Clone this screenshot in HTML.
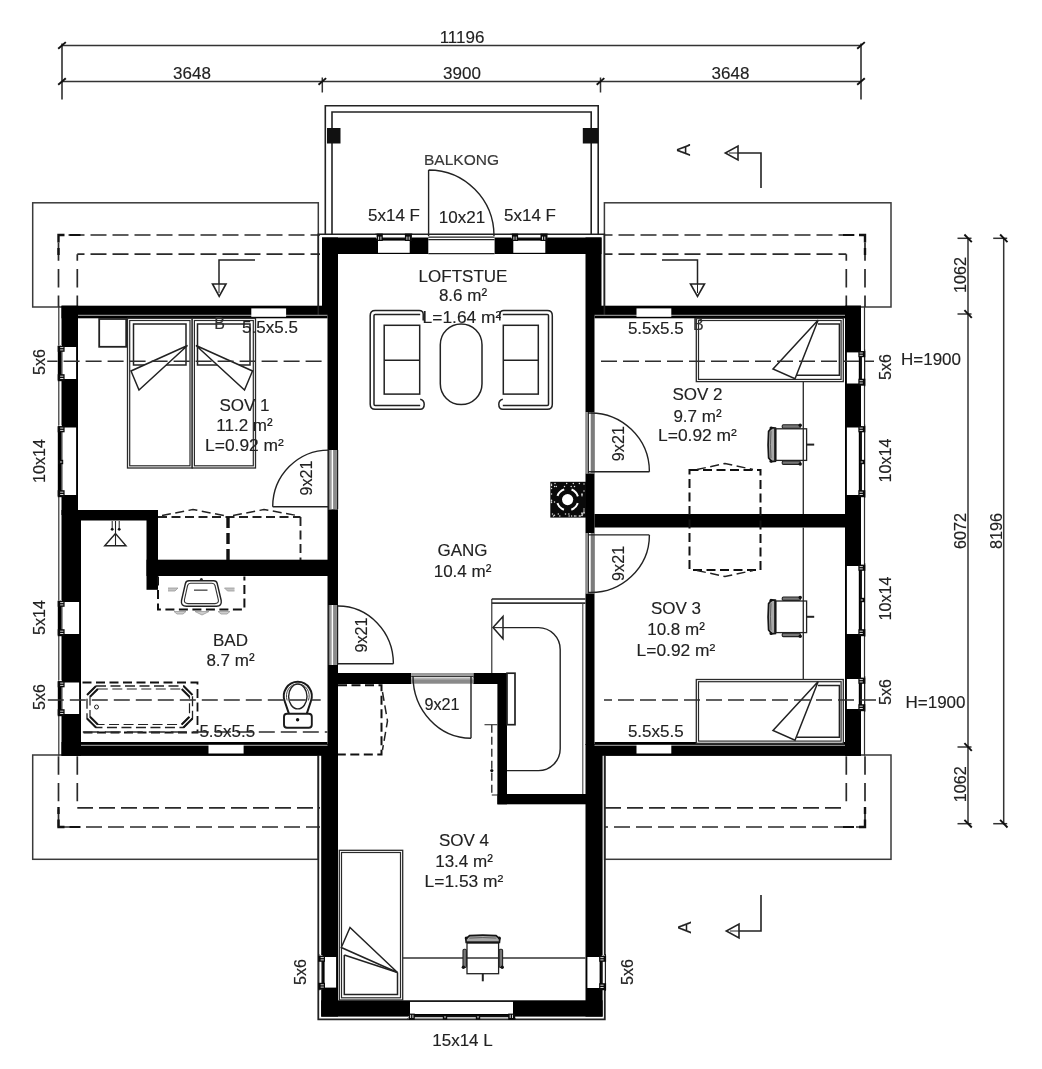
<!DOCTYPE html>
<html lang="no"><head><meta charset="utf-8"><title>Plan loft</title>
<style>
html,body{margin:0;padding:0;background:#fff;}
body{width:1042px;height:1069px;overflow:hidden;}
svg{display:block;}
text{font-family:"Liberation Sans",sans-serif;}
</style></head><body>
<svg width="1042" height="1069" viewBox="0 0 1042 1069">
<rect width="1042" height="1069" fill="#fff"/>
<g id="roof">
<rect x="32.70" y="202.80" width="285.60" height="104.20" fill="#fff" stroke="#3a3a3a" stroke-width="1.5" />
<rect x="604.40" y="202.80" width="286.60" height="104.20" fill="#fff" stroke="#3a3a3a" stroke-width="1.5" />
<rect x="32.70" y="755.00" width="285.60" height="104.30" fill="#fff" stroke="#3a3a3a" stroke-width="1.5" />
<rect x="604.60" y="755.00" width="286.40" height="104.30" fill="#fff" stroke="#3a3a3a" stroke-width="1.5" />
</g>
<g id="dashes">
<line x1="58.50" y1="235.00" x2="320.00" y2="235.00" stroke="#2a2a2a" stroke-width="1.7" stroke-dasharray="16 6" stroke-dashoffset="12.00"/>
<line x1="604.00" y1="235.00" x2="865.00" y2="235.00" stroke="#2a2a2a" stroke-width="1.7" stroke-dasharray="16 6" stroke-dashoffset="7.50"/>
<line x1="58.50" y1="827.00" x2="320.00" y2="827.00" stroke="#2a2a2a" stroke-width="1.7" stroke-dasharray="16 6" stroke-dashoffset="16.50"/>
<line x1="604.00" y1="827.00" x2="865.00" y2="827.00" stroke="#2a2a2a" stroke-width="1.7" stroke-dasharray="16 6" stroke-dashoffset="12.00"/>
<line x1="58.50" y1="235.00" x2="58.50" y2="307.00" stroke="#2a2a2a" stroke-width="1.7" stroke-dasharray="18.4 8.2" stroke-dashoffset="19.20"/>
<line x1="865.00" y1="235.00" x2="865.00" y2="307.00" stroke="#2a2a2a" stroke-width="1.7" stroke-dasharray="18.4 8.2" stroke-dashoffset="19.20"/>
<line x1="58.50" y1="755.00" x2="58.50" y2="827.00" stroke="#2a2a2a" stroke-width="1.7" stroke-dasharray="18.4 8.2" stroke-dashoffset="25.30"/>
<line x1="865.00" y1="755.00" x2="865.00" y2="827.00" stroke="#2a2a2a" stroke-width="1.7" stroke-dasharray="18.4 8.2" stroke-dashoffset="25.30"/>
<line x1="77.30" y1="254.20" x2="320.00" y2="254.20" stroke="#2a2a2a" stroke-width="1.7" stroke-dasharray="16 6" stroke-dashoffset="8.80"/>
<line x1="604.00" y1="254.20" x2="846.30" y2="254.20" stroke="#2a2a2a" stroke-width="1.7" stroke-dasharray="16 6" stroke-dashoffset="7.50"/>
<line x1="77.30" y1="807.80" x2="320.00" y2="807.80" stroke="#2a2a2a" stroke-width="1.7" stroke-dasharray="16 6" stroke-dashoffset="0.30"/>
<line x1="604.00" y1="807.80" x2="846.30" y2="807.80" stroke="#2a2a2a" stroke-width="1.7" stroke-dasharray="16 6" stroke-dashoffset="21.00"/>
<line x1="77.30" y1="254.20" x2="77.30" y2="307.00" stroke="#2a2a2a" stroke-width="1.7" stroke-dasharray="18.4 8.2" stroke-dashoffset="11.80"/>
<line x1="846.30" y1="254.20" x2="846.30" y2="307.00" stroke="#2a2a2a" stroke-width="1.7" stroke-dasharray="18.4 8.2" stroke-dashoffset="11.80"/>
<line x1="77.30" y1="755.00" x2="77.30" y2="807.80" stroke="#2a2a2a" stroke-width="1.7" stroke-dasharray="18.4 8.2" stroke-dashoffset="25.30"/>
<line x1="846.30" y1="755.00" x2="846.30" y2="807.80" stroke="#2a2a2a" stroke-width="1.7" stroke-dasharray="18.4 8.2" stroke-dashoffset="25.30"/>
<path d="M64.5,235 L58.5,235 L58.5,242.5 M58.5,248 L58.5,255" fill="none" stroke="#111" stroke-width="2.4" />
<path d="M69.5,235 L80.5,235" fill="none" stroke="#111" stroke-width="2.0" />
<path d="M859,235 L865,235 L865,242.5 M865,248 L865,255" fill="none" stroke="#111" stroke-width="2.4" />
<path d="M854,235 L843,235" fill="none" stroke="#111" stroke-width="2.0" />
<path d="M64.5,827 L58.5,827 L58.5,819.5 M58.5,814 L58.5,807" fill="none" stroke="#111" stroke-width="2.4" />
<path d="M69.5,827 L80.5,827" fill="none" stroke="#111" stroke-width="2.0" />
<path d="M859,827 L865,827 L865,819.5 M865,814 L865,807" fill="none" stroke="#111" stroke-width="2.4" />
<path d="M854,827 L843,827" fill="none" stroke="#111" stroke-width="2.0" />
</g>
<g id="walls" fill="#000">
<rect x="322.00" y="237.50" width="279.50" height="16.50" fill="#000" stroke="none" stroke-width="0" />
<rect x="322.00" y="237.50" width="16.00" height="78.50" fill="#000" stroke="none" stroke-width="0" />
<rect x="327.50" y="316.00" width="10.50" height="429.00" fill="#000" stroke="none" stroke-width="0" />
<rect x="321.20" y="744.00" width="16.80" height="272.60" fill="#000" stroke="none" stroke-width="0" />
<rect x="585.50" y="237.50" width="16.00" height="78.50" fill="#000" stroke="none" stroke-width="0" />
<rect x="585.50" y="316.00" width="9.00" height="429.00" fill="#000" stroke="none" stroke-width="0" />
<rect x="585.50" y="744.00" width="17.10" height="272.60" fill="#000" stroke="none" stroke-width="0" />
<rect x="321.20" y="1000.30" width="281.40" height="16.30" fill="#000" stroke="none" stroke-width="0" />
<rect x="61.50" y="305.70" width="266.00" height="12.60" fill="#000" stroke="none" stroke-width="0" />
<rect x="61.50" y="305.70" width="16.50" height="209.30" fill="#000" stroke="none" stroke-width="0" />
<rect x="61.50" y="510.00" width="19.50" height="245.80" fill="#000" stroke="none" stroke-width="0" />
<rect x="61.50" y="742.00" width="266.00" height="13.80" fill="#000" stroke="none" stroke-width="0" />
<rect x="78.00" y="510.00" width="80.00" height="10.50" fill="#000" stroke="none" stroke-width="0" />
<rect x="146.50" y="510.00" width="11.50" height="79.80" fill="#000" stroke="none" stroke-width="0" />
<rect x="146.50" y="559.70" width="181.50" height="16.30" fill="#000" stroke="none" stroke-width="0" />
<rect x="594.50" y="305.70" width="266.50" height="12.60" fill="#000" stroke="none" stroke-width="0" />
<rect x="845.00" y="305.70" width="16.00" height="450.10" fill="#000" stroke="none" stroke-width="0" />
<rect x="594.50" y="742.00" width="266.50" height="13.80" fill="#000" stroke="none" stroke-width="0" />
<rect x="594.50" y="514.00" width="251.50" height="13.50" fill="#000" stroke="none" stroke-width="0" />
<rect x="338.00" y="673.00" width="169.00" height="11.00" fill="#000" stroke="none" stroke-width="0" />
<rect x="497.40" y="673.00" width="9.60" height="131.30" fill="#000" stroke="none" stroke-width="0" />
<rect x="497.40" y="794.00" width="88.60" height="10.30" fill="#000" stroke="none" stroke-width="0" />
</g>
<g id="clad">
<line x1="58.80" y1="305.70" x2="58.80" y2="755.80" stroke="#333" stroke-width="1.2" />
<line x1="864.50" y1="305.70" x2="864.50" y2="755.80" stroke="#333" stroke-width="1.2" />
<path d="M318.3,316 L318.3,234.3 L604.4,234.3 L604.4,316" fill="none" stroke="#222" stroke-width="1.6" />
<path d="M318.3,755.8 L318.3,1019.3 L604.8,1019.3 L604.8,755.8" fill="none" stroke="#222" stroke-width="1.8" />
<line x1="78.00" y1="315.30" x2="327.50" y2="315.30" stroke="#8a8a8a" stroke-width="1.2" />
<line x1="594.50" y1="315.30" x2="845.00" y2="315.30" stroke="#8a8a8a" stroke-width="1.2" />
<line x1="81.00" y1="745.40" x2="327.50" y2="745.40" stroke="#8a8a8a" stroke-width="1.2" />
<line x1="594.50" y1="745.40" x2="845.00" y2="745.40" stroke="#8a8a8a" stroke-width="1.2" />
</g>
<g id="openings">
<rect x="62.40" y="347.00" width="13.70" height="32.00" fill="#fff" stroke="none" stroke-width="0" />
<rect x="58.40" y="345.00" width="3.60" height="36.00" fill="#fff" stroke="none" stroke-width="0" />
<rect x="57.80" y="346.00" width="3.90" height="34.00" fill="#000" stroke="none" stroke-width="0" />
<rect x="57.70" y="345.60" width="6.90" height="6.20" fill="#0a0a0a" stroke="none" stroke-width="0" />
<line x1="63.40" y1="347.60" x2="60.20" y2="347.60" stroke="#eee" stroke-width="0.9" />
<line x1="63.40" y1="349.90" x2="60.20" y2="349.90" stroke="#eee" stroke-width="0.9" />
<rect x="57.70" y="374.20" width="6.90" height="7.00" fill="#0a0a0a" stroke="none" stroke-width="0" />
<line x1="63.40" y1="376.20" x2="60.20" y2="376.20" stroke="#eee" stroke-width="0.9" />
<line x1="63.40" y1="378.50" x2="60.20" y2="378.50" stroke="#eee" stroke-width="0.9" />
<rect x="62.40" y="427.50" width="13.70" height="67.50" fill="#fff" stroke="none" stroke-width="0" />
<rect x="58.40" y="425.50" width="3.60" height="71.50" fill="#fff" stroke="none" stroke-width="0" />
<rect x="57.80" y="426.50" width="3.90" height="69.50" fill="#000" stroke="none" stroke-width="0" />
<rect x="57.70" y="426.10" width="6.90" height="6.20" fill="#0a0a0a" stroke="none" stroke-width="0" />
<line x1="63.40" y1="428.10" x2="60.20" y2="428.10" stroke="#eee" stroke-width="0.9" />
<line x1="63.40" y1="430.40" x2="60.20" y2="430.40" stroke="#eee" stroke-width="0.9" />
<rect x="57.70" y="490.20" width="6.90" height="7.00" fill="#0a0a0a" stroke="none" stroke-width="0" />
<line x1="63.40" y1="492.20" x2="60.20" y2="492.20" stroke="#eee" stroke-width="0.9" />
<line x1="63.40" y1="494.50" x2="60.20" y2="494.50" stroke="#eee" stroke-width="0.9" />
<rect x="58.20" y="459.80" width="5.00" height="4.40" fill="#0a0a0a" stroke="none" stroke-width="0" />
<line x1="62.20" y1="462.00" x2="60.00" y2="462.00" stroke="#eee" stroke-width="0.9" />
<rect x="62.40" y="602.00" width="16.70" height="32.00" fill="#fff" stroke="none" stroke-width="0" />
<rect x="58.40" y="600.00" width="3.60" height="36.00" fill="#fff" stroke="none" stroke-width="0" />
<rect x="57.80" y="601.00" width="3.90" height="34.00" fill="#000" stroke="none" stroke-width="0" />
<rect x="57.70" y="600.60" width="6.90" height="6.20" fill="#0a0a0a" stroke="none" stroke-width="0" />
<line x1="63.40" y1="602.60" x2="60.20" y2="602.60" stroke="#eee" stroke-width="0.9" />
<line x1="63.40" y1="604.90" x2="60.20" y2="604.90" stroke="#eee" stroke-width="0.9" />
<rect x="57.70" y="629.20" width="6.90" height="7.00" fill="#0a0a0a" stroke="none" stroke-width="0" />
<line x1="63.40" y1="631.20" x2="60.20" y2="631.20" stroke="#eee" stroke-width="0.9" />
<line x1="63.40" y1="633.50" x2="60.20" y2="633.50" stroke="#eee" stroke-width="0.9" />
<rect x="62.40" y="682.50" width="16.70" height="31.50" fill="#fff" stroke="none" stroke-width="0" />
<rect x="58.40" y="680.50" width="3.60" height="35.50" fill="#fff" stroke="none" stroke-width="0" />
<rect x="57.80" y="681.50" width="3.90" height="33.50" fill="#000" stroke="none" stroke-width="0" />
<rect x="57.70" y="681.10" width="6.90" height="6.20" fill="#0a0a0a" stroke="none" stroke-width="0" />
<line x1="63.40" y1="683.10" x2="60.20" y2="683.10" stroke="#eee" stroke-width="0.9" />
<line x1="63.40" y1="685.40" x2="60.20" y2="685.40" stroke="#eee" stroke-width="0.9" />
<rect x="57.70" y="709.20" width="6.90" height="7.00" fill="#0a0a0a" stroke="none" stroke-width="0" />
<line x1="63.40" y1="711.20" x2="60.20" y2="711.20" stroke="#eee" stroke-width="0.9" />
<line x1="63.40" y1="713.50" x2="60.20" y2="713.50" stroke="#eee" stroke-width="0.9" />
<rect x="846.90" y="352.40" width="11.90" height="31.10" fill="#fff" stroke="none" stroke-width="0" />
<rect x="861.00" y="350.40" width="3.60" height="35.10" fill="#fff" stroke="none" stroke-width="0" />
<line x1="861.00" y1="351.40" x2="861.00" y2="384.50" stroke="#111" stroke-width="1.9" />
<line x1="864.60" y1="349.40" x2="864.60" y2="386.50" stroke="#222" stroke-width="1.2" />
<rect x="858.40" y="351.00" width="6.90" height="6.20" fill="#0a0a0a" stroke="none" stroke-width="0" />
<line x1="859.60" y1="353.00" x2="862.80" y2="353.00" stroke="#eee" stroke-width="0.9" />
<line x1="859.60" y1="355.30" x2="862.80" y2="355.30" stroke="#eee" stroke-width="0.9" />
<rect x="858.40" y="378.70" width="6.90" height="7.00" fill="#0a0a0a" stroke="none" stroke-width="0" />
<line x1="859.60" y1="380.70" x2="862.80" y2="380.70" stroke="#eee" stroke-width="0.9" />
<line x1="859.60" y1="383.00" x2="862.80" y2="383.00" stroke="#eee" stroke-width="0.9" />
<rect x="846.90" y="427.50" width="11.90" height="67.50" fill="#fff" stroke="none" stroke-width="0" />
<rect x="861.00" y="425.50" width="3.60" height="71.50" fill="#fff" stroke="none" stroke-width="0" />
<line x1="861.00" y1="426.50" x2="861.00" y2="496.00" stroke="#111" stroke-width="1.9" />
<line x1="864.60" y1="424.50" x2="864.60" y2="498.00" stroke="#222" stroke-width="1.2" />
<rect x="858.40" y="426.10" width="6.90" height="6.20" fill="#0a0a0a" stroke="none" stroke-width="0" />
<line x1="859.60" y1="428.10" x2="862.80" y2="428.10" stroke="#eee" stroke-width="0.9" />
<line x1="859.60" y1="430.40" x2="862.80" y2="430.40" stroke="#eee" stroke-width="0.9" />
<rect x="858.40" y="490.20" width="6.90" height="7.00" fill="#0a0a0a" stroke="none" stroke-width="0" />
<line x1="859.60" y1="492.20" x2="862.80" y2="492.20" stroke="#eee" stroke-width="0.9" />
<line x1="859.60" y1="494.50" x2="862.80" y2="494.50" stroke="#eee" stroke-width="0.9" />
<rect x="859.80" y="459.80" width="5.00" height="4.40" fill="#0a0a0a" stroke="none" stroke-width="0" />
<line x1="860.80" y1="462.00" x2="863.00" y2="462.00" stroke="#eee" stroke-width="0.9" />
<rect x="846.90" y="566.00" width="11.90" height="68.00" fill="#fff" stroke="none" stroke-width="0" />
<rect x="861.00" y="564.00" width="3.60" height="72.00" fill="#fff" stroke="none" stroke-width="0" />
<line x1="861.00" y1="565.00" x2="861.00" y2="635.00" stroke="#111" stroke-width="1.9" />
<line x1="864.60" y1="563.00" x2="864.60" y2="637.00" stroke="#222" stroke-width="1.2" />
<rect x="858.40" y="564.60" width="6.90" height="6.20" fill="#0a0a0a" stroke="none" stroke-width="0" />
<line x1="859.60" y1="566.60" x2="862.80" y2="566.60" stroke="#eee" stroke-width="0.9" />
<line x1="859.60" y1="568.90" x2="862.80" y2="568.90" stroke="#eee" stroke-width="0.9" />
<rect x="858.40" y="629.20" width="6.90" height="7.00" fill="#0a0a0a" stroke="none" stroke-width="0" />
<line x1="859.60" y1="631.20" x2="862.80" y2="631.20" stroke="#eee" stroke-width="0.9" />
<line x1="859.60" y1="633.50" x2="862.80" y2="633.50" stroke="#eee" stroke-width="0.9" />
<rect x="859.80" y="597.80" width="5.00" height="4.40" fill="#0a0a0a" stroke="none" stroke-width="0" />
<line x1="860.80" y1="600.00" x2="863.00" y2="600.00" stroke="#eee" stroke-width="0.9" />
<rect x="846.90" y="679.00" width="11.90" height="30.00" fill="#fff" stroke="none" stroke-width="0" />
<rect x="861.00" y="677.00" width="3.60" height="34.00" fill="#fff" stroke="none" stroke-width="0" />
<line x1="861.00" y1="678.00" x2="861.00" y2="710.00" stroke="#111" stroke-width="1.9" />
<line x1="864.60" y1="676.00" x2="864.60" y2="712.00" stroke="#222" stroke-width="1.2" />
<rect x="858.40" y="677.60" width="6.90" height="6.20" fill="#0a0a0a" stroke="none" stroke-width="0" />
<line x1="859.60" y1="679.60" x2="862.80" y2="679.60" stroke="#eee" stroke-width="0.9" />
<line x1="859.60" y1="681.90" x2="862.80" y2="681.90" stroke="#eee" stroke-width="0.9" />
<rect x="858.40" y="704.20" width="6.90" height="7.00" fill="#0a0a0a" stroke="none" stroke-width="0" />
<line x1="859.60" y1="706.20" x2="862.80" y2="706.20" stroke="#eee" stroke-width="0.9" />
<line x1="859.60" y1="708.50" x2="862.80" y2="708.50" stroke="#eee" stroke-width="0.9" />
<rect x="324.60" y="957.00" width="11.50" height="30.60" fill="#fff" stroke="none" stroke-width="0" />
<rect x="318.80" y="955.00" width="3.60" height="34.60" fill="#fff" stroke="none" stroke-width="0" />
<line x1="322.40" y1="956.00" x2="322.40" y2="988.60" stroke="#111" stroke-width="1.9" />
<line x1="318.80" y1="954.00" x2="318.80" y2="990.60" stroke="#222" stroke-width="1.2" />
<rect x="318.10" y="955.60" width="6.90" height="6.20" fill="#0a0a0a" stroke="none" stroke-width="0" />
<line x1="323.80" y1="957.60" x2="320.60" y2="957.60" stroke="#eee" stroke-width="0.9" />
<line x1="323.80" y1="959.90" x2="320.60" y2="959.90" stroke="#eee" stroke-width="0.9" />
<rect x="318.10" y="982.80" width="6.90" height="7.00" fill="#0a0a0a" stroke="none" stroke-width="0" />
<line x1="323.80" y1="984.80" x2="320.60" y2="984.80" stroke="#eee" stroke-width="0.9" />
<line x1="323.80" y1="987.10" x2="320.60" y2="987.10" stroke="#eee" stroke-width="0.9" />
<rect x="587.40" y="957.00" width="12.20" height="31.00" fill="#fff" stroke="none" stroke-width="0" />
<rect x="601.80" y="955.00" width="3.60" height="35.00" fill="#fff" stroke="none" stroke-width="0" />
<line x1="601.80" y1="956.00" x2="601.80" y2="989.00" stroke="#111" stroke-width="1.9" />
<line x1="605.40" y1="954.00" x2="605.40" y2="991.00" stroke="#222" stroke-width="1.2" />
<rect x="599.20" y="955.60" width="6.90" height="6.20" fill="#0a0a0a" stroke="none" stroke-width="0" />
<line x1="600.40" y1="957.60" x2="603.60" y2="957.60" stroke="#eee" stroke-width="0.9" />
<line x1="600.40" y1="959.90" x2="603.60" y2="959.90" stroke="#eee" stroke-width="0.9" />
<rect x="599.20" y="983.20" width="6.90" height="7.00" fill="#0a0a0a" stroke="none" stroke-width="0" />
<line x1="600.40" y1="985.20" x2="603.60" y2="985.20" stroke="#eee" stroke-width="0.9" />
<line x1="600.40" y1="987.50" x2="603.60" y2="987.50" stroke="#eee" stroke-width="0.9" />
<rect x="378.00" y="240.60" width="31.70" height="12.20" fill="#fff" stroke="none" stroke-width="0" />
<rect x="376.00" y="234.30" width="35.70" height="4.10" fill="#fff" stroke="none" stroke-width="0" />
<line x1="377.00" y1="238.40" x2="410.70" y2="238.40" stroke="#111" stroke-width="1.9" />
<line x1="375.00" y1="234.30" x2="412.70" y2="234.30" stroke="#222" stroke-width="1.2" />
<rect x="376.60" y="233.60" width="6.20" height="7.40" fill="#0a0a0a" stroke="none" stroke-width="0" />
<line x1="378.60" y1="239.80" x2="378.60" y2="236.60" stroke="#eee" stroke-width="0.9" />
<line x1="380.90" y1="239.80" x2="380.90" y2="236.60" stroke="#eee" stroke-width="0.9" />
<rect x="404.90" y="233.60" width="7.00" height="7.40" fill="#0a0a0a" stroke="none" stroke-width="0" />
<line x1="406.90" y1="239.80" x2="406.90" y2="236.60" stroke="#eee" stroke-width="0.9" />
<line x1="409.20" y1="239.80" x2="409.20" y2="236.60" stroke="#eee" stroke-width="0.9" />
<rect x="513.30" y="240.60" width="32.00" height="12.20" fill="#fff" stroke="none" stroke-width="0" />
<rect x="511.30" y="234.30" width="36.00" height="4.10" fill="#fff" stroke="none" stroke-width="0" />
<line x1="512.30" y1="238.40" x2="546.30" y2="238.40" stroke="#111" stroke-width="1.9" />
<line x1="510.30" y1="234.30" x2="548.30" y2="234.30" stroke="#222" stroke-width="1.2" />
<rect x="511.90" y="233.60" width="6.20" height="7.40" fill="#0a0a0a" stroke="none" stroke-width="0" />
<line x1="513.90" y1="239.80" x2="513.90" y2="236.60" stroke="#eee" stroke-width="0.9" />
<line x1="516.20" y1="239.80" x2="516.20" y2="236.60" stroke="#eee" stroke-width="0.9" />
<rect x="540.50" y="233.60" width="7.00" height="7.40" fill="#0a0a0a" stroke="none" stroke-width="0" />
<line x1="542.50" y1="239.80" x2="542.50" y2="236.60" stroke="#eee" stroke-width="0.9" />
<line x1="544.80" y1="239.80" x2="544.80" y2="236.60" stroke="#eee" stroke-width="0.9" />
<rect x="428.30" y="235.20" width="66.30" height="19.30" fill="#fff" stroke="none" stroke-width="0" />
<line x1="428.30" y1="253.60" x2="494.60" y2="253.60" stroke="#222" stroke-width="1.4" />
<line x1="428.30" y1="237.20" x2="494.60" y2="237.20" stroke="#222" stroke-width="1.3" />
<line x1="428.30" y1="239.60" x2="494.60" y2="239.60" stroke="#222" stroke-width="1.3" />
<rect x="410.00" y="1001.90" width="103.00" height="12.10" fill="#fff" stroke="none" stroke-width="0" />
<rect x="408.00" y="1016.20" width="107.00" height="3.00" fill="#fff" stroke="none" stroke-width="0" />
<line x1="409.00" y1="1016.20" x2="514.00" y2="1016.20" stroke="#111" stroke-width="1.9" />
<line x1="407.00" y1="1019.20" x2="516.00" y2="1019.20" stroke="#222" stroke-width="1.2" />
<rect x="408.60" y="1013.60" width="6.20" height="6.30" fill="#0a0a0a" stroke="none" stroke-width="0" />
<line x1="410.60" y1="1014.80" x2="410.60" y2="1018.00" stroke="#eee" stroke-width="0.9" />
<line x1="412.90" y1="1014.80" x2="412.90" y2="1018.00" stroke="#eee" stroke-width="0.9" />
<rect x="508.20" y="1013.60" width="7.00" height="6.30" fill="#0a0a0a" stroke="none" stroke-width="0" />
<line x1="510.20" y1="1014.80" x2="510.20" y2="1018.00" stroke="#eee" stroke-width="0.9" />
<line x1="512.50" y1="1014.80" x2="512.50" y2="1018.00" stroke="#eee" stroke-width="0.9" />
<rect x="442.80" y="1015.00" width="4.40" height="4.60" fill="#0a0a0a" stroke="none" stroke-width="0" />
<line x1="445.00" y1="1016.00" x2="445.00" y2="1018.20" stroke="#eee" stroke-width="0.9" />
<rect x="475.80" y="1015.00" width="4.40" height="4.60" fill="#0a0a0a" stroke="none" stroke-width="0" />
<line x1="478.00" y1="1016.00" x2="478.00" y2="1018.20" stroke="#eee" stroke-width="0.9" />
<rect x="251.30" y="308.40" width="34.80" height="8.40" fill="#fff" stroke="none" stroke-width="0" />
<rect x="636.50" y="308.40" width="34.80" height="8.40" fill="#fff" stroke="none" stroke-width="0" />
<rect x="208.50" y="744.90" width="35.10" height="8.60" fill="#fff" stroke="none" stroke-width="0" />
<rect x="636.50" y="744.90" width="34.80" height="8.60" fill="#fff" stroke="none" stroke-width="0" />
</g>
<g id="doors">
<rect x="328.50" y="450.00" width="9.50" height="59.30" fill="#fff" stroke="none" stroke-width="0" />
<rect x="329.18" y="450.00" width="2.52" height="59.30" fill="#9c9c9c" stroke="none" stroke-width="0" />
<rect x="334.85" y="450.00" width="2.10" height="59.30" fill="#8c8c8c" stroke="none" stroke-width="0" />
<line x1="334.01" y1="450.00" x2="334.01" y2="509.30" stroke="#2a2a2a" stroke-width="1.0" />
<line x1="337.60" y1="450.00" x2="337.60" y2="509.30" stroke="#1a1a1a" stroke-width="1.2" />
<line x1="328.70" y1="450.00" x2="328.70" y2="509.30" stroke="#1a1a1a" stroke-width="1.2" />
<path d="M329,506.8 L272.7,506.8 M272.7,506.8 A56,56.7 0 0 1 329,450.1" fill="none" stroke="#222" stroke-width="1.4" />
<rect x="328.50" y="605.00" width="9.50" height="60.00" fill="#fff" stroke="none" stroke-width="0" />
<rect x="329.18" y="605.00" width="2.52" height="60.00" fill="#9c9c9c" stroke="none" stroke-width="0" />
<rect x="334.85" y="605.00" width="2.10" height="60.00" fill="#8c8c8c" stroke="none" stroke-width="0" />
<line x1="334.01" y1="605.00" x2="334.01" y2="665.00" stroke="#2a2a2a" stroke-width="1.0" />
<line x1="337.60" y1="605.00" x2="337.60" y2="665.00" stroke="#1a1a1a" stroke-width="1.2" />
<line x1="328.70" y1="605.00" x2="328.70" y2="665.00" stroke="#1a1a1a" stroke-width="1.2" />
<path d="M337,663.8 L393.4,663.8 M393.4,663.8 A55.4,57.8 0 0 0 338,606" fill="none" stroke="#222" stroke-width="1.4" />
<rect x="585.50" y="412.00" width="9.30" height="61.40" fill="#fff" stroke="none" stroke-width="0" />
<rect x="585.50" y="412.00" width="2.43" height="61.40" fill="#8c8c8c" stroke="none" stroke-width="0" />
<line x1="588.47" y1="412.00" x2="588.47" y2="473.40" stroke="#2a2a2a" stroke-width="1.0" />
<rect x="590.72" y="412.00" width="4.08" height="61.40" fill="#7c7c7c" stroke="none" stroke-width="0" />
<path d="M588,471.7 L649.4,471.7 M649.4,471.7 A59,58.7 0 0 0 588,413" fill="none" stroke="#222" stroke-width="1.4" />
<rect x="585.50" y="533.00" width="9.30" height="60.40" fill="#fff" stroke="none" stroke-width="0" />
<rect x="585.50" y="533.00" width="2.43" height="60.40" fill="#8c8c8c" stroke="none" stroke-width="0" />
<line x1="588.47" y1="533.00" x2="588.47" y2="593.40" stroke="#2a2a2a" stroke-width="1.0" />
<rect x="590.72" y="533.00" width="4.08" height="60.40" fill="#7c7c7c" stroke="none" stroke-width="0" />
<path d="M588,534.9 L649.4,534.9 M649.4,534.9 A59,57.5 0 0 1 588,592.4" fill="none" stroke="#222" stroke-width="1.4" />
<rect x="411.20" y="672.70" width="62.20" height="11.10" fill="#fff" stroke="none" stroke-width="0" />
<rect x="411.20" y="673.00" width="62.20" height="2.94" fill="#9a9a9a" stroke="none" stroke-width="0" />
<line x1="411.20" y1="676.57" x2="473.40" y2="676.57" stroke="#2a2a2a" stroke-width="1.0" />
<rect x="411.20" y="677.83" width="62.20" height="5.67" fill="#8a8a8a" stroke="none" stroke-width="0" />
<rect x="411.20" y="677.83" width="62.20" height="1.68" fill="#b5b5b5" stroke="none" stroke-width="0" />
<path d="M471,676 L471,738.2 M471,738.2 A58,62.2 0 0 1 413,676" fill="none" stroke="#222" stroke-width="1.4" />
<path d="M428.6,236 L428.6,170 M428.6,170 A65.5,66 0 0 1 494,236" fill="none" stroke="#222" stroke-width="1.4" />
</g>
<g id="balcony">
<path d="M325.3,234.5 L325.3,105.8 L598.2,105.8 L598.2,234.5" fill="none" stroke="#222" stroke-width="1.6" />
<path d="M332,234.5 L332,112 L591.2,112 L591.2,234.5" fill="none" stroke="#222" stroke-width="1.6" />
<rect x="327.00" y="128.00" width="13.50" height="15.50" fill="#111" stroke="none" stroke-width="0" />
<rect x="582.80" y="128.00" width="15.20" height="15.50" fill="#111" stroke="none" stroke-width="0" />
</g>
<g id="stair">
<line x1="491.80" y1="599.00" x2="491.80" y2="673.00" stroke="#222" stroke-width="1.1" />
<line x1="491.80" y1="599.00" x2="585.50" y2="599.00" stroke="#222" stroke-width="1.4" />
<line x1="491.80" y1="603.20" x2="585.50" y2="603.20" stroke="#333" stroke-width="1.8" />
<line x1="582.80" y1="603.20" x2="582.80" y2="794.00" stroke="#444" stroke-width="1.1" />
<path d="M503,627.6 L538.4,627.6 A21.8,21.8 0 0 1 560.2,649.4 L560.2,748.8 A21.8,21.8 0 0 1 538.4,770.6 L507,770.6" fill="none" stroke="#222" stroke-width="1.4" />
<path d="M493,627.6 L503,616.5 L503,638.7 Z" fill="#fff" stroke="#222" stroke-width="1.5" />
<line x1="494.00" y1="627.60" x2="503.00" y2="627.60" stroke="#333" stroke-width="1.2" />
<rect x="507.00" y="673.20" width="8.00" height="51.50" fill="#fff" stroke="#222" stroke-width="1.7" />
<line x1="491.80" y1="724.70" x2="491.80" y2="795.00" stroke="#222" stroke-width="1.3" stroke-dasharray="8 4"/>
<line x1="484.50" y1="724.70" x2="497.40" y2="724.70" stroke="#333" stroke-width="1.1" />
<line x1="491.80" y1="795.00" x2="497.40" y2="795.00" stroke="#333" stroke-width="1.1" />
<circle cx="491.8" cy="770.6" r="1.6" fill="#111"/>
</g>
<g id="chimney">
<rect x="550.30" y="481.80" width="35.70" height="35.80" fill="#0a0a0a" stroke="none" stroke-width="0" />
<circle cx="567.6" cy="499.6" r="10.8" fill="none" stroke="#fff" stroke-width="2.0" stroke-dasharray="9.5 7.5" stroke-dashoffset="-3.6"/>
<circle cx="567.6" cy="499.6" r="5.6" fill="#fff"/>
<g fill="#ddd">
<circle cx="568.9" cy="514.0" r="0.75"/>
<circle cx="566.7" cy="483.5" r="0.75"/>
<circle cx="584.0" cy="512.6" r="0.75"/>
<circle cx="584.0" cy="491.0" r="0.75"/>
<circle cx="569.1" cy="516.0" r="0.75"/>
<circle cx="556.3" cy="486.5" r="0.75"/>
<circle cx="551.5" cy="500.2" r="0.75"/>
<circle cx="551.5" cy="485.5" r="0.75"/>
<circle cx="552.5" cy="514.0" r="0.75"/>
<circle cx="574.5" cy="516.0" r="0.75"/>
<circle cx="584.0" cy="513.0" r="0.75"/>
<circle cx="554.5" cy="502.0" r="0.75"/>
<circle cx="554.6" cy="486.5" r="0.75"/>
<circle cx="559.8" cy="516.0" r="0.75"/>
<circle cx="584.0" cy="510.9" r="0.75"/>
<circle cx="582.0" cy="495.8" r="0.75"/>
<circle cx="564.5" cy="486.5" r="0.75"/>
<circle cx="573.3" cy="483.5" r="0.75"/>
<circle cx="554.5" cy="515.2" r="0.75"/>
<circle cx="551.5" cy="493.9" r="0.75"/>
<circle cx="558.3" cy="514.0" r="0.75"/>
<circle cx="553.5" cy="516.0" r="0.75"/>
<circle cx="584.0" cy="509.1" r="0.75"/>
<circle cx="584.0" cy="484.1" r="0.75"/>
<circle cx="579.4" cy="483.5" r="0.75"/>
<circle cx="575.9" cy="516.0" r="0.75"/>
<circle cx="582.0" cy="494.1" r="0.75"/>
<circle cx="582.0" cy="515.5" r="0.75"/>
<circle cx="555.0" cy="483.5" r="0.75"/>
<circle cx="582.6" cy="514.0" r="0.75"/>
<circle cx="551.5" cy="488.5" r="0.75"/>
<circle cx="582.0" cy="494.4" r="0.75"/>
<circle cx="580.2" cy="516.0" r="0.75"/>
<circle cx="579.3" cy="516.0" r="0.75"/>
<circle cx="551.5" cy="502.6" r="0.75"/>
<circle cx="582.0" cy="513.6" r="0.75"/>
<circle cx="574.5" cy="486.5" r="0.75"/>
<circle cx="565.5" cy="514.0" r="0.75"/>
<circle cx="551.5" cy="501.0" r="0.75"/>
<circle cx="582.0" cy="515.1" r="0.75"/>
<circle cx="571.2" cy="486.5" r="0.75"/>
<circle cx="571.6" cy="516.0" r="0.75"/>
<circle cx="582.0" cy="512.9" r="0.75"/>
<circle cx="551.5" cy="484.2" r="0.75"/>
</g>
</g>
<g id="furniture">
<path d="M423.2,320.6 L423.2,314.6 Q423.2,310.6 419.2,310.6 L375.2,310.6 Q370.2,310.6 370.2,315.6 L370.2,404.3 Q370.2,409.3 375.2,409.3 L420.2,409.3 Q424.2,409.3 424.2,404.3 Q424.2,400.3 420.2,399.3" fill="none" stroke="#222" stroke-width="1.5" />
<path d="M420.2,314.40000000000003 L375.2,314.40000000000003 Q374.0,314.40000000000003 374.0,315.6 L374.0,404.3 Q374.0,405.5 375.2,405.5 L420.2,405.5" fill="none" stroke="#222" stroke-width="1.5" />
<rect x="384.20" y="325.30" width="35.50" height="68.80" fill="none" stroke="#222" stroke-width="1.5" />
<line x1="384.20" y1="360.15" x2="419.70" y2="360.15" stroke="#222" stroke-width="1.5" />
<path d="M499.8,320.6 L499.8,314.6 Q499.8,310.6 503.8,310.6 L547.3,310.6 Q552.3,310.6 552.3,315.6 L552.3,404.3 Q552.3,409.3 547.3,409.3 L502.8,409.3 Q498.8,409.3 498.8,404.3 Q498.8,400.3 502.8,399.3" fill="none" stroke="#222" stroke-width="1.5" />
<path d="M502.8,314.40000000000003 L547.3,314.40000000000003 Q548.5,314.40000000000003 548.5,315.6 L548.5,404.3 Q548.5,405.5 547.3,405.5 L502.8,405.5" fill="none" stroke="#222" stroke-width="1.5" />
<rect x="503.30" y="325.30" width="35.00" height="68.80" fill="none" stroke="#222" stroke-width="1.5" />
<line x1="503.30" y1="360.15" x2="538.30" y2="360.15" stroke="#222" stroke-width="1.5" />
<rect x="440.30" y="324.00" width="41.70" height="80.60" rx="20.8" ry="20.8" fill="none" stroke="#222" stroke-width="1.5" />
<rect x="127.50" y="318.30" width="64.70" height="149.70" fill="#fff" stroke="#2a2a2a" stroke-width="1.3" />
<rect x="129.70" y="320.50" width="60.30" height="145.30" fill="none" stroke="#2a2a2a" stroke-width="1.2" />
<rect x="192.20" y="318.30" width="63.30" height="149.70" fill="#fff" stroke="#2a2a2a" stroke-width="1.3" />
<rect x="194.40" y="320.50" width="58.90" height="145.30" fill="none" stroke="#2a2a2a" stroke-width="1.2" />
<rect x="133.50" y="324.00" width="52.50" height="41.00" fill="none" stroke="#222" stroke-width="1.5" />
<rect x="197.50" y="324.00" width="52.50" height="41.00" fill="none" stroke="#222" stroke-width="1.5" />
<path d="M187.5,345.5 L131,371 L139,390 Z" fill="#fff" stroke="#222" stroke-width="1.5" />
<path d="M196,345.5 L252.5,371 L244.5,390 Z" fill="#fff" stroke="#222" stroke-width="1.5" />
<rect x="99.20" y="319.00" width="27.00" height="27.80" fill="none" stroke="#222" stroke-width="1.8" />
<rect x="696.30" y="318.30" width="147.00" height="63.30" fill="#fff" stroke="#2a2a2a" stroke-width="1.3" />
<rect x="698.50" y="320.50" width="142.60" height="58.90" fill="none" stroke="#2a2a2a" stroke-width="1.2" />
<path d="M818,324 L839.4,324 L839.4,375.3 L797,375.3" fill="none" stroke="#222" stroke-width="1.5" />
<path d="M818.2,320 L773,369 L795,378.7 Z" fill="#fff" stroke="#222" stroke-width="1.5" />
<rect x="696.30" y="679.50" width="147.00" height="63.80" fill="#fff" stroke="#2a2a2a" stroke-width="1.3" />
<rect x="698.50" y="681.70" width="142.60" height="59.40" fill="none" stroke="#2a2a2a" stroke-width="1.2" />
<path d="M818,685.5 L839.4,685.5 L839.4,737.3 L797,737.3" fill="none" stroke="#222" stroke-width="1.5" />
<path d="M818.2,681.5 L773,730.5 L795,740.2 Z" fill="#fff" stroke="#222" stroke-width="1.5" />
<rect x="339.30" y="850.30" width="63.40" height="149.70" fill="#fff" stroke="#2a2a2a" stroke-width="1.3" />
<rect x="341.50" y="852.50" width="59.00" height="145.30" fill="none" stroke="#2a2a2a" stroke-width="1.2" />
<path d="M344.3,955 L344.3,994.5 L397.5,994.5 L397.5,972.5" fill="none" stroke="#222" stroke-width="1.5" />
<path d="M350,927.5 L341.3,947.5 L397.5,972.5 Z" fill="#fff" stroke="#222" stroke-width="1.5" />
<path d="M344.3,955 L397.5,972.5" fill="none" stroke="#222" stroke-width="1.5" />
<line x1="803.30" y1="381.60" x2="803.30" y2="514.00" stroke="#333" stroke-width="1.4" />
<line x1="803.30" y1="527.50" x2="803.30" y2="679.50" stroke="#333" stroke-width="1.4" />
<line x1="402.70" y1="958.00" x2="585.50" y2="958.00" stroke="#333" stroke-width="1.4" />
<path d="M775.4000000000001,428.0 L771.7,427.6 L768.6,431.40000000000003 Q767.6,444.6 768.6,457.8 L771.7,461.6 L775.4000000000001,461.20000000000005 Z" fill="#a8a8a8" stroke="#151515" stroke-width="1.7" />
<path d="M771.0,431.1 Q769.9000000000001,444.6 771.0,458.1" fill="none" stroke="#555" stroke-width="0.9" />
<circle cx="771.0" cy="428.0" r="1.5" fill="#111"/>
<circle cx="771.0" cy="461.2" r="1.5" fill="#111"/>
<rect x="775.40" y="428.80" width="31.20" height="31.60" fill="none" stroke="#222" stroke-width="1.3" />
<line x1="775.40" y1="428.80" x2="775.40" y2="460.40" stroke="#151515" stroke-width="2.0" />
<rect x="782.20" y="424.80" width="18.20" height="3.40" fill="#777" stroke="#222" stroke-width="1.1" rx="1.2"/>
<rect x="782.20" y="461.00" width="18.20" height="3.40" fill="#777" stroke="#222" stroke-width="1.1" rx="1.2"/>
<circle cx="800.2" cy="425.2" r="1.7" fill="#111"/>
<circle cx="800.2" cy="464.0" r="1.7" fill="#111"/>
<line x1="806.60" y1="444.60" x2="814.20" y2="444.60" stroke="#222" stroke-width="2.0" />
<path d="M775.4000000000001,600.1999999999999 L771.7,599.8 L768.6,603.5999999999999 Q767.6,616.8 768.6,630.0 L771.7,633.8 L775.4000000000001,633.4 Z" fill="#a8a8a8" stroke="#151515" stroke-width="1.7" />
<path d="M771.0,603.3 Q769.9000000000001,616.8 771.0,630.3" fill="none" stroke="#555" stroke-width="0.9" />
<circle cx="771.0" cy="600.2" r="1.5" fill="#111"/>
<circle cx="771.0" cy="633.4" r="1.5" fill="#111"/>
<rect x="775.40" y="601.00" width="31.20" height="31.60" fill="none" stroke="#222" stroke-width="1.3" />
<line x1="775.40" y1="601.00" x2="775.40" y2="632.60" stroke="#151515" stroke-width="2.0" />
<rect x="782.20" y="597.00" width="18.20" height="3.40" fill="#777" stroke="#222" stroke-width="1.1" rx="1.2"/>
<rect x="782.20" y="633.20" width="18.20" height="3.40" fill="#777" stroke="#222" stroke-width="1.1" rx="1.2"/>
<circle cx="800.2" cy="597.4" r="1.7" fill="#111"/>
<circle cx="800.2" cy="636.2" r="1.7" fill="#111"/>
<line x1="806.60" y1="616.80" x2="814.20" y2="616.80" stroke="#222" stroke-width="2.0" />
<g transform="translate(482.8,958.3) rotate(90)">
<path d="M-15.8,-16.6 L-19.5,-17 L-22.6,-13.2 Q-23.6,0 -22.6,13.2 L-19.5,17 L-15.8,16.6 Z" fill="#a8a8a8" stroke="#151515" stroke-width="1.7" />
<path d="M-20.2,-13.5 Q-21.3,0 -20.2,13.5" fill="none" stroke="#555" stroke-width="0.9" />
<circle cx="-20.2" cy="-16.6" r="1.5" fill="#111"/>
<circle cx="-20.2" cy="16.6" r="1.5" fill="#111"/>
<rect x="-15.80" y="-15.80" width="31.20" height="31.60" fill="none" stroke="#222" stroke-width="1.3" />
<line x1="-15.80" y1="-15.80" x2="-15.80" y2="15.80" stroke="#151515" stroke-width="2.0" />
<rect x="-9.00" y="-19.80" width="18.20" height="3.40" fill="#777" stroke="#222" stroke-width="1.1" rx="1.2"/>
<rect x="-9.00" y="16.40" width="18.20" height="3.40" fill="#777" stroke="#222" stroke-width="1.1" rx="1.2"/>
<circle cx="9.0" cy="-19.4" r="1.7" fill="#111"/>
<circle cx="9.0" cy="19.4" r="1.7" fill="#111"/>
<line x1="15.40" y1="0.00" x2="23.00" y2="0.00" stroke="#222" stroke-width="2.0" />
</g>
<path d="M158,517 L300.5,517" fill="none" stroke="#222" stroke-width="1.9" stroke-dasharray="9 4.5"/>
<path d="M300.5,517 L300.5,560" fill="none" stroke="#222" stroke-width="1.9" stroke-dasharray="9 4.5"/>
<path d="M228,517 L228,560" fill="none" stroke="#111" stroke-width="3.4" stroke-dasharray="11 5"/>
<path d="M162,515.5 L193,509.5 L224,515.5" fill="none" stroke="#222" stroke-width="1.5" stroke-dasharray="9 4.5"/>
<path d="M233,515.5 L264,509.5 L297,515.5" fill="none" stroke="#222" stroke-width="1.5" stroke-dasharray="9 4.5"/>
<path d="M689.5,470 L760.5,470 L760.5,570 L689.5,570 Z" fill="none" stroke="#111" stroke-width="2.0" stroke-dasharray="9 4.5"/>
<path d="M697,469.5 L725,463.5 L753,469.5" fill="none" stroke="#222" stroke-width="1.5" stroke-dasharray="9 4.5"/>
<path d="M697,570.5 L725,576.5 L753,570.5" fill="none" stroke="#222" stroke-width="1.5" stroke-dasharray="9 4.5"/>
<path d="M338,685.2 L381.5,685.2 L381.5,754.5 L338,754.5" fill="none" stroke="#111" stroke-width="2.0" stroke-dasharray="9 4.5"/>
<path d="M382.5,692 L387.5,721 L382.5,750" fill="none" stroke="#222" stroke-width="1.5" stroke-dasharray="9 4.5"/>
<line x1="115.50" y1="521.00" x2="115.50" y2="546.00" stroke="#222" stroke-width="1.1" />
<line x1="112.20" y1="521.00" x2="112.20" y2="529.00" stroke="#222" stroke-width="1.0" />
<line x1="119.20" y1="521.00" x2="119.20" y2="529.00" stroke="#222" stroke-width="1.0" />
<path d="M115.5,533.5 L104.7,545.8 L126,545.8 Z" fill="none" stroke="#222" stroke-width="1.4" />
<circle cx="112.2" cy="529.3" r="1.4" fill="#111"/><circle cx="119.2" cy="529.3" r="1.4" fill="#111"/>
<path d="M158,576.5 L158,609.6 L244.4,609.6 L244.4,576.5" fill="none" stroke="#111" stroke-width="2.0" stroke-dasharray="9 4.5"/>
<path d="M189,580.8 L213.5,580.8 Q216.6,580.8 217.2,583.5 L221.2,600.5 Q222,606.2 216.5,606.2 L186.5,606.2 Q180.6,606.2 181.5,600.5 L185.4,583.5 Q186,580.8 189,580.8 Z" fill="#fff" stroke="#222" stroke-width="1.4" />
<path d="M190.5,583.3 L212,583.3 Q214.4,583.3 215,585.5 L218.4,600 Q218.8,603.6 215,603.6 L188,603.6 Q184,603.6 184.4,600 L187.6,585.5 Q188.2,583.3 190.5,583.3 Z" fill="none" stroke="#333" stroke-width="1.1" />
<line x1="194.00" y1="590.20" x2="207.50" y2="590.20" stroke="#666" stroke-width="1.6" />
<circle cx="201.4" cy="579.6" r="1.5" fill="#222"/>
<path d="M168,588 L178,588 L175,591 L168,591" fill="#c4c4c4" stroke="#999" stroke-width="0.8" />
<path d="M234.5,588 L224.5,588 L227.5,591 L234.5,591" fill="#c4c4c4" stroke="#999" stroke-width="0.8" />
<path d="M174,611.5 L186,611.5 L183,614 L177,614 Z" fill="#ccc" stroke="#999" stroke-width="0.8" />
<path d="M195,611.5 L209,611.5 L202,615 Z" fill="#ccc" stroke="#999" stroke-width="0.8" />
<path d="M218,611.5 L230,611.5 L227,614 L221,614 Z" fill="#ccc" stroke="#999" stroke-width="0.8" />
<path d="M82.5,682.5 L197.5,682.5 L197.5,732.5 L82.5,732.5" fill="none" stroke="#111" stroke-width="1.8" stroke-dasharray="9 4.5"/>
<path d="M96.0,686 L183.5,686 L192.5,695.0 L192.5,718.5 L183.5,727.5 L96.0,727.5 L87,718.5 L87,695.0 Z" fill="none" stroke="#222" stroke-width="1.3" stroke-dasharray="10 4.5"/>
<path d="M97.8,689 L181.7,689 L189.5,696.8 L189.5,716.7 L181.7,724.5 L97.8,724.5 L90,716.7 L90,696.8 Z" fill="none" stroke="#222" stroke-width="1.2" stroke-dasharray="10 4.5"/>
<line x1="87.00" y1="695.00" x2="96.00" y2="686.00" stroke="#151515" stroke-width="2.0" />
<line x1="183.50" y1="686.00" x2="192.50" y2="695.00" stroke="#151515" stroke-width="2.0" />
<line x1="192.50" y1="718.50" x2="183.50" y2="727.50" stroke="#151515" stroke-width="2.0" />
<line x1="96.00" y1="727.50" x2="87.00" y2="718.50" stroke="#151515" stroke-width="2.0" />
<line x1="90.00" y1="696.80" x2="97.80" y2="689.00" stroke="#151515" stroke-width="2.0" />
<line x1="181.70" y1="689.00" x2="189.50" y2="696.80" stroke="#151515" stroke-width="2.0" />
<line x1="189.50" y1="716.70" x2="181.70" y2="724.50" stroke="#151515" stroke-width="2.0" />
<line x1="97.80" y1="724.50" x2="90.00" y2="716.70" stroke="#151515" stroke-width="2.0" />
<circle cx="96.5" cy="707" r="2" fill="none" stroke="#222" stroke-width="1"/>
<path d="M288.9,713.6 L284.8,701.5 A14,14.4 0 1 1 310.8,701.5 L306.8,713.6" fill="#fff" stroke="#1a1a1a" stroke-width="2.0" />
<path d="M287.2,700.5 A11.4,12.2 0 1 1 308.4,700.5" fill="none" stroke="#444" stroke-width="1.0" />
<ellipse cx="297.8" cy="696.5" rx="9.2" ry="12.4" fill="none" stroke="#222" stroke-width="1.4"/>
<rect x="284.00" y="713.80" width="27.80" height="14.00" rx="3" ry="3" fill="#fff" stroke="#1a1a1a" stroke-width="1.9" />
<circle cx="297.6" cy="719.8" r="1.7" fill="#111"/>
</g>
<g id="hlines">
<line x1="47.20" y1="361.20" x2="327.50" y2="361.20" stroke="#2e2e2e" stroke-width="1.6" stroke-dasharray="16 6" stroke-dashoffset="5.60"/>
<line x1="601.00" y1="361.20" x2="874.00" y2="361.20" stroke="#2e2e2e" stroke-width="1.6" stroke-dasharray="16 6" stroke-dashoffset="0.00"/>
<line x1="47.20" y1="700.00" x2="320.70" y2="700.00" stroke="#2e2e2e" stroke-width="1.6" stroke-dasharray="16 6" stroke-dashoffset="21.40"/>
<line x1="604.00" y1="700.00" x2="877.00" y2="700.00" stroke="#2e2e2e" stroke-width="1.6" stroke-dasharray="16 6" stroke-dashoffset="8.00"/>
<line x1="82.00" y1="732.00" x2="327.50" y2="732.00" stroke="#2e2e2e" stroke-width="1.6" stroke-dasharray="16 6" stroke-dashoffset="21.20"/>
</g>
<g id="arrows">
<path d="M255,260 L219,260 L219,284" fill="none" stroke="#222" stroke-width="1.5" />
<path d="M212.5,284 L226,284 L219.2,296.3 Z" fill="none" stroke="#222" stroke-width="1.6" />
<line x1="219.00" y1="284.00" x2="219.00" y2="293.00" stroke="#222" stroke-width="1.0" />
<path d="M662,260 L697.5,260 L697.5,284" fill="none" stroke="#222" stroke-width="1.5" />
<path d="M690.5,284 L704.5,284 L697.5,296.3 Z" fill="none" stroke="#222" stroke-width="1.6" />
<line x1="697.50" y1="284.00" x2="697.50" y2="293.00" stroke="#222" stroke-width="1.0" />
<path d="M761,188 L761,153 L738,153" fill="none" stroke="#222" stroke-width="1.6" />
<path d="M738,146 L738,160 L725.3,153 Z" fill="none" stroke="#222" stroke-width="1.6" />
<line x1="738.00" y1="153.00" x2="729.00" y2="153.00" stroke="#222" stroke-width="1.0" />
<path d="M761,895 L761,931 L739,931" fill="none" stroke="#222" stroke-width="1.6" />
<path d="M739,924 L739,938 L726.3,931 Z" fill="none" stroke="#222" stroke-width="1.6" />
<line x1="739.00" y1="931.00" x2="730.00" y2="931.00" stroke="#222" stroke-width="1.0" />
</g>
<g id="dims">
<line x1="62.00" y1="45.50" x2="861.00" y2="45.50" stroke="#333" stroke-width="1.5" />
<line x1="62.00" y1="81.60" x2="861.00" y2="81.60" stroke="#333" stroke-width="1.5" />
<line x1="62.00" y1="43.50" x2="62.00" y2="99.50" stroke="#222" stroke-width="1.5" />
<line x1="861.00" y1="43.50" x2="861.00" y2="99.50" stroke="#222" stroke-width="1.5" />
<line x1="58.20" y1="48.70" x2="65.80" y2="42.10" stroke="#111" stroke-width="1.9" />
<line x1="58.20" y1="84.80" x2="65.80" y2="78.20" stroke="#111" stroke-width="1.9" />
<line x1="857.20" y1="48.70" x2="864.80" y2="42.10" stroke="#111" stroke-width="1.9" />
<line x1="857.20" y1="84.80" x2="864.80" y2="78.20" stroke="#111" stroke-width="1.9" />
<line x1="322.30" y1="77.50" x2="322.30" y2="92.50" stroke="#333" stroke-width="1.5" />
<line x1="318.50" y1="84.70" x2="326.10" y2="78.10" stroke="#111" stroke-width="1.9" />
<line x1="600.50" y1="77.50" x2="600.50" y2="92.50" stroke="#333" stroke-width="1.5" />
<line x1="596.70" y1="84.70" x2="604.30" y2="78.10" stroke="#111" stroke-width="1.9" />
<line x1="968.00" y1="238.00" x2="968.00" y2="824.00" stroke="#333" stroke-width="1.5" />
<line x1="1003.70" y1="238.00" x2="1003.70" y2="824.00" stroke="#333" stroke-width="1.5" />
<line x1="957.50" y1="238.30" x2="971.50" y2="238.30" stroke="#333" stroke-width="1.5" />
<line x1="964.40" y1="234.50" x2="971.80" y2="242.10" stroke="#111" stroke-width="1.9" />
<line x1="957.50" y1="314.00" x2="971.50" y2="314.00" stroke="#333" stroke-width="1.5" />
<line x1="964.40" y1="310.20" x2="971.80" y2="317.80" stroke="#111" stroke-width="1.9" />
<line x1="957.50" y1="747.00" x2="971.50" y2="747.00" stroke="#333" stroke-width="1.5" />
<line x1="964.40" y1="743.20" x2="971.80" y2="750.80" stroke="#111" stroke-width="1.9" />
<line x1="957.50" y1="823.70" x2="971.50" y2="823.70" stroke="#333" stroke-width="1.5" />
<line x1="964.40" y1="819.90" x2="971.80" y2="827.50" stroke="#111" stroke-width="1.9" />
<line x1="993.20" y1="238.30" x2="1007.20" y2="238.30" stroke="#333" stroke-width="1.5" />
<line x1="1000.10" y1="234.50" x2="1007.50" y2="242.10" stroke="#111" stroke-width="1.9" />
<line x1="993.20" y1="823.70" x2="1007.20" y2="823.70" stroke="#333" stroke-width="1.5" />
<line x1="1000.10" y1="819.90" x2="1007.50" y2="827.50" stroke="#111" stroke-width="1.9" />
</g>
<g id="text" style="opacity:0.999" stroke="#222" stroke-width="0.15">
<text x="462.00" y="42.50" font-size="17" text-anchor="middle" fill="#222" >11196</text>
<text x="192.00" y="78.50" font-size="17" text-anchor="middle" fill="#222" >3648</text>
<text x="462.00" y="78.50" font-size="17" text-anchor="middle" fill="#222" >3900</text>
<text x="730.50" y="78.50" font-size="17" text-anchor="middle" fill="#222" >3648</text>
<text x="461.50" y="165.00" font-size="15.5" text-anchor="middle" fill="#3a3a3a" >BALKONG</text>
<text x="394.00" y="221.00" font-size="17" text-anchor="middle" fill="#222" >5x14 F</text>
<text x="462.00" y="223.00" font-size="17" text-anchor="middle" fill="#222" >10x21</text>
<text x="530.00" y="221.00" font-size="17" text-anchor="middle" fill="#222" >5x14 F</text>
<text x="463.00" y="282.00" font-size="17" text-anchor="middle" fill="#222" >LOFTSTUE</text>
<text x="463.00" y="301.30" font-size="17" text-anchor="middle" fill="#222" >8.6 m²</text>
<text x="462.00" y="322.60" font-size="17.4" text-anchor="middle" fill="#222" >L=1.64 m²</text>
<text x="244.50" y="411.00" font-size="17" text-anchor="middle" fill="#222" >SOV 1</text>
<text x="244.50" y="431.00" font-size="17" text-anchor="middle" fill="#222" >11.2 m²</text>
<text x="244.50" y="451.00" font-size="17.4" text-anchor="middle" fill="#222" >L=0.92 m²</text>
<text x="270.00" y="333.00" font-size="17" text-anchor="middle" fill="#222" >5.5x5.5</text>
<text x="219.50" y="328.80" font-size="16" text-anchor="middle" fill="#333" >B</text>
<text x="697.50" y="400.00" font-size="17" text-anchor="middle" fill="#222" >SOV 2</text>
<text x="697.50" y="422.20" font-size="17" text-anchor="middle" fill="#222" >9.7 m²</text>
<text x="697.50" y="441.00" font-size="17.4" text-anchor="middle" fill="#222" >L=0.92 m²</text>
<text x="655.80" y="334.00" font-size="17" text-anchor="middle" fill="#222" >5.5x5.5</text>
<text x="698.30" y="329.80" font-size="16" text-anchor="middle" fill="#333" >B</text>
<text x="676.00" y="614.00" font-size="17" text-anchor="middle" fill="#222" >SOV 3</text>
<text x="676.00" y="635.00" font-size="17" text-anchor="middle" fill="#222" >10.8 m²</text>
<text x="676.00" y="655.50" font-size="17.4" text-anchor="middle" fill="#222" >L=0.92 m²</text>
<text x="655.80" y="736.60" font-size="17" text-anchor="middle" fill="#222" >5.5x5.5</text>
<text x="464.00" y="846.00" font-size="17" text-anchor="middle" fill="#222" >SOV 4</text>
<text x="464.00" y="867.00" font-size="17" text-anchor="middle" fill="#222" >13.4 m²</text>
<text x="464.00" y="887.00" font-size="17.4" text-anchor="middle" fill="#222" >L=1.53 m²</text>
<text x="462.50" y="556.00" font-size="17" text-anchor="middle" fill="#222" >GANG</text>
<text x="462.50" y="577.00" font-size="17" text-anchor="middle" fill="#222" >10.4 m²</text>
<text x="230.50" y="645.50" font-size="17" text-anchor="middle" fill="#222" >BAD</text>
<text x="230.50" y="666.00" font-size="17" text-anchor="middle" fill="#222" >8.7 m²</text>
<text x="227.30" y="736.60" font-size="17" text-anchor="middle" fill="#222" >5.5x5.5</text>
<text x="442.00" y="710.00" font-size="16.2" text-anchor="middle" fill="#222" >9x21</text>
<text x="312.40" y="478.00" font-size="16.2" text-anchor="middle" fill="#222" transform="rotate(-90 312.40 478.00)" >9x21</text>
<text x="366.60" y="635.00" font-size="16.2" text-anchor="middle" fill="#222" transform="rotate(-90 366.60 635.00)" >9x21</text>
<text x="623.80" y="443.60" font-size="16.2" text-anchor="middle" fill="#222" transform="rotate(-90 623.80 443.60)" >9x21</text>
<text x="623.80" y="563.40" font-size="16.2" text-anchor="middle" fill="#222" transform="rotate(-90 623.80 563.40)" >9x21</text>
<text x="45.00" y="362.00" font-size="16.2" text-anchor="middle" fill="#222" transform="rotate(-90 45.00 362.00)" >5x6</text>
<text x="45.00" y="461.00" font-size="16.2" text-anchor="middle" fill="#222" transform="rotate(-90 45.00 461.00)" >10x14</text>
<text x="45.00" y="617.50" font-size="16.2" text-anchor="middle" fill="#222" transform="rotate(-90 45.00 617.50)" >5x14</text>
<text x="45.00" y="697.00" font-size="16.2" text-anchor="middle" fill="#222" transform="rotate(-90 45.00 697.00)" >5x6</text>
<text x="891.30" y="367.00" font-size="16.2" text-anchor="middle" fill="#222" transform="rotate(-90 891.30 367.00)" >5x6</text>
<text x="891.30" y="460.50" font-size="16.2" text-anchor="middle" fill="#222" transform="rotate(-90 891.30 460.50)" >10x14</text>
<text x="891.30" y="598.50" font-size="16.2" text-anchor="middle" fill="#222" transform="rotate(-90 891.30 598.50)" >10x14</text>
<text x="891.30" y="692.00" font-size="16.2" text-anchor="middle" fill="#222" transform="rotate(-90 891.30 692.00)" >5x6</text>
<text x="306.00" y="972.00" font-size="16.2" text-anchor="middle" fill="#222" transform="rotate(-90 306.00 972.00)" >5x6</text>
<text x="632.50" y="972.00" font-size="16.2" text-anchor="middle" fill="#222" transform="rotate(-90 632.50 972.00)" >5x6</text>
<text x="901.00" y="365.00" font-size="17" text-anchor="start" fill="#222" >H=1900</text>
<text x="905.50" y="708.00" font-size="17" text-anchor="start" fill="#222" >H=1900</text>
<text x="966.00" y="275.00" font-size="16.2" text-anchor="middle" fill="#222" transform="rotate(-90 966.00 275.00)" >1062</text>
<text x="966.00" y="784.30" font-size="16.2" text-anchor="middle" fill="#222" transform="rotate(-90 966.00 784.30)" >1062</text>
<text x="966.00" y="531.00" font-size="16.2" text-anchor="middle" fill="#222" transform="rotate(-90 966.00 531.00)" >6072</text>
<text x="1002.00" y="531.00" font-size="16.2" text-anchor="middle" fill="#222" transform="rotate(-90 1002.00 531.00)" >8196</text>
<text x="462.50" y="1046.00" font-size="17" text-anchor="middle" fill="#222" >15x14 L</text>
<text x="690.00" y="150.00" font-size="18" text-anchor="middle" fill="#222" transform="rotate(-90 690.00 150.00)" >A</text>
<text x="690.50" y="927.50" font-size="18" text-anchor="middle" fill="#222" transform="rotate(-90 690.50 927.50)" >A</text>
</g>
</svg></body></html>
